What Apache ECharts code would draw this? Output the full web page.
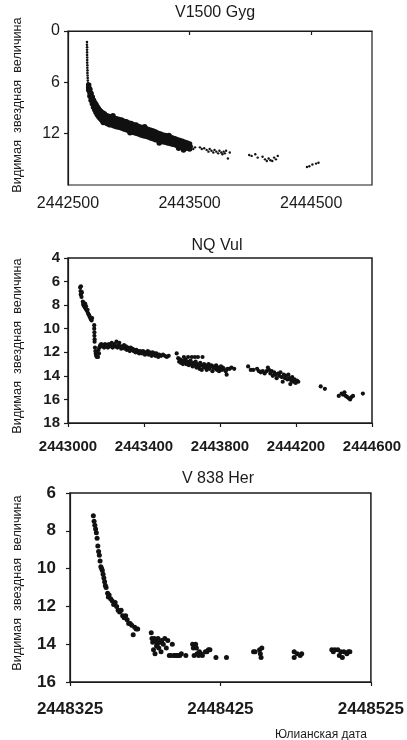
<!DOCTYPE html>
<html><head><meta charset="utf-8">
<script src="https://cdn.jsdelivr.net/npm/echarts@6/dist/echarts.min.js"></script>
<style>html,body{margin:0;padding:0;background:#fff}#c{width:407px;height:740px}</style>
</head><body><div id="c"></div>
<script>
// ---------- Panel 1: V1500 Gyg ----------
const p1Title = "V1500 Gyg";
const p1XTicks = [2442500, 2443500, 2444500];
const p1YTicks = [0, 6, 12];
const p1Peak = [[2442656,1.3],[2442656,1.6],[2442657,1.9],[2442657,2.2],[2442657,2.5],[2442657,2.8],[2442658,3.1],[2442658,3.4],[2442658,3.7],[2442659,4.0],[2442659,4.3],[2442660,4.6],[2442660,4.9],[2442661,5.2],[2442662,5.5],[2442663,5.8],[2442664,6.1],[2442666,6.4]];
const p1Band = [
[2442670,6.3],[2442670,6.6],[2442670,6.9],
[2442680,6.8],[2442680,7.2],[2442680,7.6],
[2442690,7.3],[2442690,7.7],[2442690,8.1],
[2442700,7.7],[2442700,8.1],[2442700,8.5],
[2442710,8.1],[2442710,8.5],[2442710,8.9],
[2442720,8.4],[2442720,8.8],[2442720,9.2],
[2442730,8.6],[2442730,9.05],[2442730,9.5],
[2442740,8.85],[2442740,9.3],[2442740,9.75],
[2442750,9.05],[2442750,9.5],[2442750,9.95],
[2442760,9.25],[2442760,9.7],[2442760,10.15],
[2442770,9.4],[2442770,9.85],[2442770,10.3],
[2442780,9.55],[2442780,10.0],[2442780,10.45],
[2442790,9.6],[2442790,10.7],
[2442800,9.7],[2442800,10.2],[2442800,10.65],
[2442820,9.9],[2442820,10.35],[2442820,10.8],
[2442840,10.0],[2442840,10.45],[2442840,10.95],
[2442860,10.05],[2442860,10.55],[2442860,11.0],
[2442870,9.9],
[2442880,10.2],[2442880,10.65],[2442880,11.1],
[2442900,10.25],[2442900,10.7],[2442900,11.2],
[2442920,10.35],[2442920,10.8],[2442920,11.25],
[2442940,10.4],[2442940,10.9],[2442940,11.35],
[2442960,10.55],[2442960,11.0],[2442960,11.45],
[2442980,10.6],[2442980,11.1],[2442980,11.55],
[2443000,10.75],[2443000,11.2],[2443000,11.65],
[2443010,11.9],
[2443020,10.8],[2443020,11.3],[2443020,11.8],
[2443040,10.95],[2443040,11.4],[2443040,11.85],
[2443060,11.0],[2443060,11.5],[2443060,11.95],
[2443080,11.15],[2443080,11.6],[2443080,12.05],
[2443100,11.25],[2443100,11.7],[2443100,12.15],
[2443120,11.35],[2443120,11.8],[2443120,12.25],
[2443130,11.2],
[2443140,11.4],[2443140,11.85],[2443140,12.3],
[2443160,11.5],[2443160,11.95],[2443160,12.4],
[2443180,11.6],[2443180,12.05],[2443180,12.5],
[2443200,11.7],[2443200,12.15],[2443200,12.6],
[2443220,11.8],[2443220,12.25],[2443220,12.7],
[2443240,11.95],[2443240,12.35],[2443240,12.75],
[2443250,13.1],
[2443260,12.05],[2443260,12.45],[2443260,12.85],
[2443280,12.15],[2443280,12.55],[2443280,12.95],
[2443300,12.2],[2443300,12.6],[2443300,13.0],
[2443320,12.3],[2443320,12.7],[2443320,13.1],
[2443330,12.2],
[2443340,12.4],[2443340,12.75],[2443340,13.15],
[2443360,12.5],[2443360,12.85],[2443360,13.25],
[2443380,12.6],[2443380,12.95],[2443380,13.3],
[2443400,12.7],[2443400,13.05],[2443400,13.4],
[2443410,13.7],
[2443420,12.8],[2443420,13.15],[2443420,13.5],
[2443440,12.9],[2443440,13.25],[2443440,13.6],
[2443450,13.9],
[2443460,13.0],[2443460,13.3],[2443460,13.65],
[2443480,13.1],[2443480,13.4],[2443480,13.7],
[2443500,13.2],[2443500,13.5],[2443500,13.8]];
const p1Tail = [[2443510,13.7],[2443520,13.5],[2443530,13.8],[2443545,13.6],
[2443585,13.6],[2443600,13.8],[2443620,13.7],[2443640,13.9],[2443655,14.1],[2443665,13.8],[2443680,14.0],[2443695,14.2],[2443705,13.9],[2443720,14.1],[2443735,14.3],[2443745,14.0],[2443760,14.2],[2443770,14.4],[2443780,14.1],[2443790,14.3],[2443800,14.0],[2443815,14.9],[2443830,14.2],
[2443990,14.5],[2444010,14.6],[2444040,14.4],[2444060,14.8],[2444100,14.7],[2444120,15.0],[2444135,15.2],[2444150,14.9],[2444165,15.1],[2444180,15.2],[2444195,14.8],[2444210,15.0],[2444225,14.6],
[2444465,15.9],[2444485,15.8],[2444510,15.6],[2444540,15.5],[2444560,15.4]];

// ---------- Panel 2: NQ Vul ----------
const p2Title = "NQ Vul";
const p2XTicks = [2443000, 2443400, 2443800, 2444200, 2444600];
const p2YTicks = [4, 6, 8, 10, 12, 14, 16, 18];
const p2Points = [
[2443064,6.5],[2443066,6.8],[2443067,7.1],[2443068,6.4],[2443070,7.0],[2443071,7.3],[2443073,6.9],
[2443078,7.7],[2443080,7.9],[2443082,8.0],[2443083,7.8],[2443085,8.1],[2443087,8.0],[2443089,8.2],[2443091,7.9],[2443093,8.3],[2443095,8.1],[2443097,8.4],[2443100,8.5],[2443103,8.4],[2443106,8.7],[2443109,8.8],[2443112,8.9],[2443115,9.0],[2443118,9.1],[2443121,9.2],[2443124,9.3],[2443127,9.1],
[2443138,9.7],[2443138,10.0],[2443139,10.3],[2443139,10.6],[2443140,10.9],[2443140,11.1],
[2443142,11.6],[2443144,11.9],[2443146,12.1],[2443148,12.3],[2443150,12.0],[2443152,12.4],[2443155,12.2],[2443158,12.4],[2443160,11.8],[2443163,12.1],[2443165,11.6],[2443168,11.5],[2443170,11.4],
[2443175,11.3],[2443180,11.5],[2443185,11.4],[2443190,11.6],[2443195,11.3],[2443200,11.5],[2443205,11.4],[2443210,11.6],[2443215,11.3],[2443220,11.5],[2443225,11.4],[2443230,11.2],[2443235,11.6],[2443240,11.5],[2443245,11.3],[2443250,11.5],[2443255,11.1],[2443260,11.6],[2443265,11.4],[2443270,11.2],[2443275,11.5],[2443280,11.7],[2443285,11.5],[2443290,11.6],[2443295,11.4],[2443300,11.7],[2443305,11.5],[2443310,11.8],[2443315,11.6],[2443320,11.7],[2443325,11.9],[2443330,11.6],[2443335,11.8],[2443340,11.7],[2443345,11.9],[2443350,11.8],[2443355,12.0],[2443360,11.8],[2443365,12.0],[2443370,11.9],[2443375,12.1],[2443380,11.9],[2443385,12.0],[2443390,12.1],[2443395,11.9],[2443400,12.0],[2443405,12.2],[2443410,12.0],[2443415,12.1],[2443420,11.9],[2443425,12.2],[2443430,12.0],[2443435,12.1],[2443440,12.3],[2443445,12.0],[2443450,12.2],[2443455,12.1],[2443460,12.3],[2443465,12.1],[2443470,12.2],[2443475,12.4],[2443480,12.2],[2443490,12.3],[2443500,12.2],[2443510,12.3],[2443520,12.4],[2443530,12.3],
[2443572,12.1],[2443580,12.5],[2443585,12.8],[2443590,12.6],[2443595,12.9],[2443600,12.7],[2443605,13.0],[2443610,12.4],[2443612,12.8],[2443618,12.6],[2443622,13.0],[2443628,12.8],[2443632,12.4],[2443636,13.1],[2443640,12.9],[2443645,12.7],[2443650,13.0],[2443652,12.4],[2443656,13.2],[2443660,12.9],[2443665,13.1],[2443668,12.4],[2443672,12.8],[2443676,13.3],[2443680,13.0],[2443684,12.4],[2443688,13.2],[2443692,13.4],[2443696,12.9],[2443700,13.1],[2443704,13.5],[2443708,12.4],[2443712,13.2],[2443716,13.0],[2443720,13.3],[2443725,13.1],[2443730,13.5],[2443735,13.2],[2443740,13.0],[2443745,13.4],[2443750,13.2],[2443755,13.1],[2443760,13.6],[2443765,13.3],[2443770,13.2],[2443775,13.4],[2443780,13.1],[2443785,13.5],[2443790,13.3],[2443795,13.6],[2443800,13.4],[2443805,13.2],[2443810,13.5],[2443815,13.3],[2443820,13.4],[2443830,13.6],[2443835,13.9],[2443840,13.4],[2443850,13.4],[2443860,13.3],[2443875,13.4],
[2443948,13.2],[2443962,13.5],[2443975,13.5],[2443995,13.4],[2444005,13.6],[2444015,13.7],[2444025,13.6],[2444035,13.8],[2444045,13.6],[2444052,13.3],[2444058,13.5],[2444065,13.8],[2444072,13.6],[2444078,14.0],[2444085,13.7],[2444092,13.9],[2444098,14.2],[2444105,13.8],[2444112,14.0],[2444118,13.7],[2444125,14.1],[2444130,14.5],[2444136,13.9],[2444142,14.2],[2444148,14.0],[2444155,14.3],[2444160,13.9],[2444165,14.2],[2444170,14.7],[2444175,14.4],[2444180,14.1],[2444186,14.5],[2444192,14.3],[2444198,14.6],[2444205,14.4],[2444212,14.5],
[2444330,14.9],[2444352,15.1],
[2444425,15.7],[2444440,15.5],[2444448,15.6],[2444455,15.4],[2444462,15.7],[2444470,15.8],[2444478,15.9],[2444485,16.0],[2444492,15.8],[2444500,15.7],
[2444552,15.5]];

// ---------- Panel 3: V 838 Her ----------
const p3Title = "V 838 Her";
const p3XTicks = [2448325, 2448425, 2448525];
const p3YTicks = [6, 8, 10, 12, 14, 16];
const p3Points = [
[2448340.5,7.2],[2448341,7.5],[2448341.5,7.7],[2448342,7.9],[2448342.5,8.1],[2448343,8.4],[2448343.5,8.8],[2448344,9.1],[2448344.5,9.3],[2448345,9.6],[2448345.5,9.9],[2448346,10.0],[2448346.5,10.1],[2448347,10.3],[2448347.5,10.5],[2448348,10.7],[2448348.5,10.9],[2448349,11.0],[2448350,11.3],[2448350.5,11.5],[2448351,11.4],[2448352,11.6],[2448353,11.7],[2448354,11.9],[2448355,11.8],[2448356,12.0],[2448357,12.2],[2448358,12.3],[2448359,12.2],[2448360,12.5],[2448361,12.6],[2448362,12.5],[2448363,12.7],[2448364,12.9],[2448365,12.9],[2448366,13.0],[2448367,13.5],[2448368,13.1],[2448369,13.2],[2448370,13.2],
[2448379,13.4],[2448379.5,13.7],[2448380,13.9],[2448380.5,14.3],[2448381,13.7],[2448381.5,14.5],[2448382,13.8],[2448382.5,14.1],[2448383,14.0],[2448383.5,13.7],[2448384,14.2],[2448385,13.9],[2448385.5,14.4],[2448386,13.8],[2448387,14.0],[2448388,13.7],[2448389,14.2],[2448390,13.8],[2448391,14.6],[2448392,14.6],[2448393,14.0],[2448394,14.6],[2448395,14.6],[2448396,14.6],[2448397,14.6],[2448398,14.6],[2448399,14.5],[2448402,14.6],
[2448406.5,14.0],[2448407,14.2],[2448407.5,14.6],[2448408.5,14.0],[2448409,14.2],[2448409.5,14.5],[2448410.5,14.6],[2448411,14.4],[2448412,14.5],[2448413,14.6],[2448415,14.4],[2448416,14.4],[2448417,14.3],[2448418,14.3],
[2448422,14.7],[2448429,14.7],
[2448447,14.4],[2448448,14.4],[2448451,14.3],[2448451.5,14.5],[2448452,14.7],[2448452.5,14.2],
[2448474,14.4],[2448474,14.7],[2448476,14.5],[2448478,14.6],[2448479,14.5],
[2448499,14.3],[2448500,14.4],[2448501,14.3],[2448503,14.3],[2448504,14.6],[2448505,14.4],[2448506,14.7],[2448507,14.4],[2448509,14.5],[2448510,14.4],[2448511,14.4]];

const yName = "Видимая  звездная  величина";
const xName = "Юлианская дата";

const FONT = "'Liberation Sans', Arial, sans-serif";
const INK = '#1b1b1b';
const DOT = '#111111';

function xAx(grid, min, max, ticks, fs, margin, fw) {
  return { type:'value', gridIndex:grid, min:min, max:max,
    axisLine:{show:true, lineStyle:{color:INK, width:1.2}},
    axisTick:{show:true, inside:false, length:4, customValues:ticks, lineStyle:{color:INK, width:1.2}},
    axisLabel:{show:true, customValues:ticks, formatter:v=>String(v), fontFamily:FONT, fontSize:fs, fontWeight:fw, color:INK, margin:margin},
    splitLine:{show:false} };
}
function yAx(grid, min, max, ticks, fs, margin, fw) {
  return { type:'value', gridIndex:grid, min:min, max:max, inverse:true,
    axisLine:{show:true, lineStyle:{color:INK, width:1.2}},
    axisTick:{show:true, inside:false, length:4, customValues:ticks, lineStyle:{color:INK, width:1.2}},
    axisLabel:{show:true, customValues:ticks, formatter:v=>String(v), fontFamily:FONT, fontSize:fs, fontWeight:fw, color:INK, margin:margin},
    splitLine:{show:false} };
}
function sc(xi, data, size) {
  return {type:'scatter', xAxisIndex:xi, yAxisIndex:xi, data:data, symbol:'circle', symbolSize:size,
    itemStyle:{color:DOT, opacity:1, borderWidth:0}, emphasis:{disabled:true}};
}

const chart = echarts.init(document.getElementById('c'), null, {renderer:'canvas'});
chart.setOption({
  animation:false,
  backgroundColor:'#fff',
  grid:[
    {left:68, top:31, width:304, height:154, show:true, borderColor:INK, borderWidth:1.2, containLabel:false},
    {left:68, top:258, width:304, height:165, show:true, borderColor:INK, borderWidth:1.5, containLabel:false},
    {left:70, top:493, width:302, height:189, show:true, borderColor:INK, borderWidth:1.5, containLabel:false}
  ],
  xAxis:[
    xAx(0, 2442500, 2445000, p1XTicks, 16, 11, 'normal'),
    xAx(1, 2443000, 2444600, p2XTicks, 15, 16, 'bold'),
    xAx(2, 2448325, 2448525, p3XTicks, 17, 19, 'bold')
  ],
  yAxis:[
    yAx(0, 0, 18, p1YTicks, 16, 8, 'normal'),
    yAx(1, 4, 18, p2YTicks, 15, 8, 'bold'),
    yAx(2, 6, 16, p3YTicks, 17, 14, 'bold')
  ],
  series:[
    sc(0, p1Peak, 2.6),
    sc(0, p1Band, 5.5),
    sc(0, p1Tail, 2.4),
    sc(1, p2Points, 4.2),
    sc(2, p3Points, 5)
  ],
  graphic:[
    {type:'text', x:215, y:13, style:{text:p1Title, font:'16px '+FONT, fill:INK, align:'center', verticalAlign:'middle', textAlign:'center', textVerticalAlign:'middle'}},
    {type:'text', x:217, y:246, style:{text:p2Title, font:'16px '+FONT, fill:INK, align:'center', verticalAlign:'middle', textAlign:'center', textVerticalAlign:'middle'}},
    {type:'text', x:218, y:479, style:{text:p3Title, font:'16px '+FONT, fill:INK, align:'center', verticalAlign:'middle', textAlign:'center', textVerticalAlign:'middle'}},
    {type:'text', x:17, y:105, rotation:Math.PI/2, style:{text:yName, font:'12.7px '+FONT, fill:INK, align:'center', verticalAlign:'middle', textAlign:'center', textVerticalAlign:'middle'}},
    {type:'text', x:17, y:346, rotation:Math.PI/2, style:{text:yName, font:'12.7px '+FONT, fill:INK, align:'center', verticalAlign:'middle', textAlign:'center', textVerticalAlign:'middle'}},
    {type:'text', x:17, y:583, rotation:Math.PI/2, style:{text:yName, font:'12.7px '+FONT, fill:INK, align:'center', verticalAlign:'middle', textAlign:'center', textVerticalAlign:'middle'}},
    {type:'text', x:321, y:735, style:{text:xName, font:'12px '+FONT, fill:INK, align:'center', verticalAlign:'middle', textAlign:'center', textVerticalAlign:'middle'}}
  ]
});
</script>
</body></html>
